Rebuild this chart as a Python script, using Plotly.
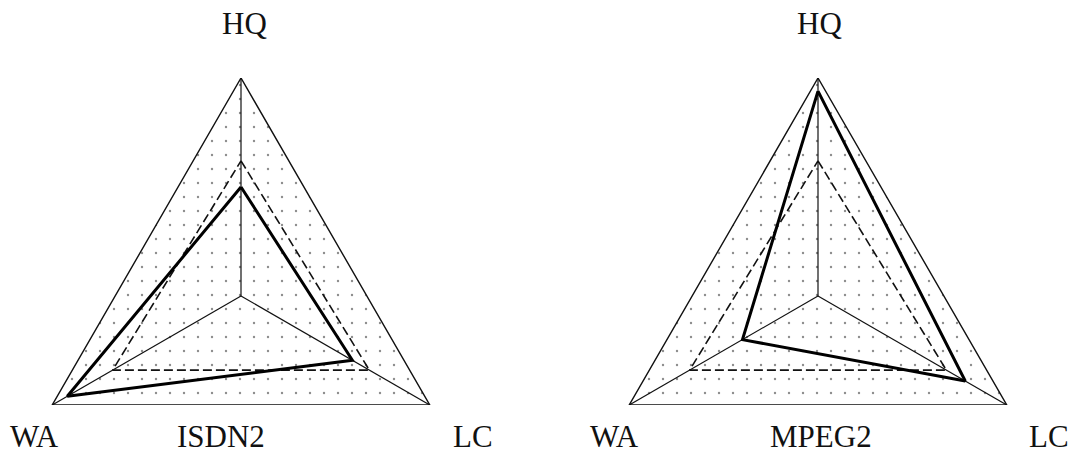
import math
import plotly.graph_objects as go

# Axes of each triangular profile, in clockwise order starting at the top
axes = ["HQ", "LC", "WA"]

# Panel titles
panels = ["ISDN2", "MPEG2"]

# Outer boundary of the scale (full score on every axis)
outer = [1.0, 1.0, 1.0]

# Dashed reference profile (HQ, LC, WA)
reference = [0.62, 0.68, 0.68]

# Measured profiles (HQ, LC, WA)
isdn2 = [0.50, 0.59, 0.92]
mpeg2 = [0.94, 0.78, 0.40]

profiles = [isdn2, mpeg2]

W, H = 1074, 454
FONT = "Liberation Serif, Times New Roman, serif"
INK = "#111111"

# Triangle geometry in pixels: circumradius, centre row, centre column per panel
R = 218
CY = 296
centres = [241, 818]

# Direction of each axis: HQ straight up, the others following clockwise
angles = [math.radians(90 - 360 / len(axes) * k) for k in range(len(axes))]


def px_x(x):
    return x / W


def px_y(y):
    return 1 - y / H


def to_xy(values, close=True):
    """Place one value on each axis direction and return x, y lists."""
    xs = [v * math.cos(a) for v, a in zip(values, angles)]
    ys = [v * math.sin(a) for v, a in zip(values, angles)]
    if close:
        xs.append(xs[0])
        ys.append(ys[0])
    return xs, ys


fig = go.Figure()

for i, (name, prof) in enumerate(zip(panels, profiles)):
    n = "" if i == 0 else str(i + 1)
    xa, ya = "x" + n, "y" + n

    # Outer triangle with a dotted texture inside
    x, y = to_xy(outer)
    fig.add_trace(go.Scatter(
        x=x, y=y, xaxis=xa, yaxis=ya, mode="lines",
        line=dict(color=INK, width=1.4),
        fill="toself", fillcolor="rgba(0,0,0,0)",
        fillpattern=dict(shape=".", fgcolor="#1a1a1a",
                         bgcolor="rgba(0,0,0,0)", size=14, solidity=0.022),
        cliponaxis=False, showlegend=False, hoverinfo="skip"))

    # Spokes from the centre to each full-score vertex
    sx, sy = to_xy(outer, close=False)
    for vx, vy, ax in zip(sx, sy, axes):
        fig.add_trace(go.Scatter(
            x=[0, vx], y=[0, vy], xaxis=xa, yaxis=ya, mode="lines",
            line=dict(color=INK, width=1.2), name=ax,
            cliponaxis=False, showlegend=False, hoverinfo="skip"))

    # Dashed reference profile
    x, y = to_xy(reference)
    fig.add_trace(go.Scatter(
        x=x, y=y, xaxis=xa, yaxis=ya, mode="lines",
        line=dict(color=INK, width=1.6, dash="9px,4px"),
        cliponaxis=False, showlegend=False, hoverinfo="skip"))

    # Measured profile
    x, y = to_xy(prof)
    fig.add_trace(go.Scatter(
        x=x, y=y, xaxis=xa, yaxis=ya, mode="lines", name=name,
        line=dict(color="#000000", width=3),
        cliponaxis=False, showlegend=False))

hidden_axis = dict(visible=False, showgrid=False, zeroline=False,
                   fixedrange=True)

panel_layout = {}
for i, cx in enumerate(centres):
    n = "" if i == 0 else str(i + 1)
    dom_x = [px_x(cx - R), px_x(cx + R)]
    dom_y = [px_y(CY + R / 2), px_y(CY - R)]
    panel_layout["xaxis" + n] = dict(hidden_axis, domain=dom_x,
                                     range=[-1, 1], anchor="y" + n)
    panel_layout["yaxis" + n] = dict(hidden_axis, domain=dom_y,
                                     range=[-0.5, 1], anchor="x" + n)

annotations = []


def label(text, x, y):
    annotations.append(dict(
        text=text, x=px_x(x), y=px_y(y), xref="paper", yref="paper",
        showarrow=False, xanchor="center", yanchor="middle",
        font=dict(family=FONT, size=31, color=INK)))


label_pos = [
    {"HQ": (244, 24), "WA": (34, 436), "LC": (473, 436)},
    {"HQ": (819, 24), "WA": (614, 436), "LC": (1049, 436)},
]
title_pos = [(221, 436), (821, 436)]

for i, name in enumerate(panels):
    for ax in axes:
        label(ax, *label_pos[i][ax])
    label(name, *title_pos[i])

fig.update_layout(
    width=W, height=H,
    margin=dict(l=0, r=0, t=0, b=0),
    paper_bgcolor="white", plot_bgcolor="rgba(0,0,0,0)",
    showlegend=False,
    annotations=annotations,
    **panel_layout,
)

fig.write_html("out.html")
